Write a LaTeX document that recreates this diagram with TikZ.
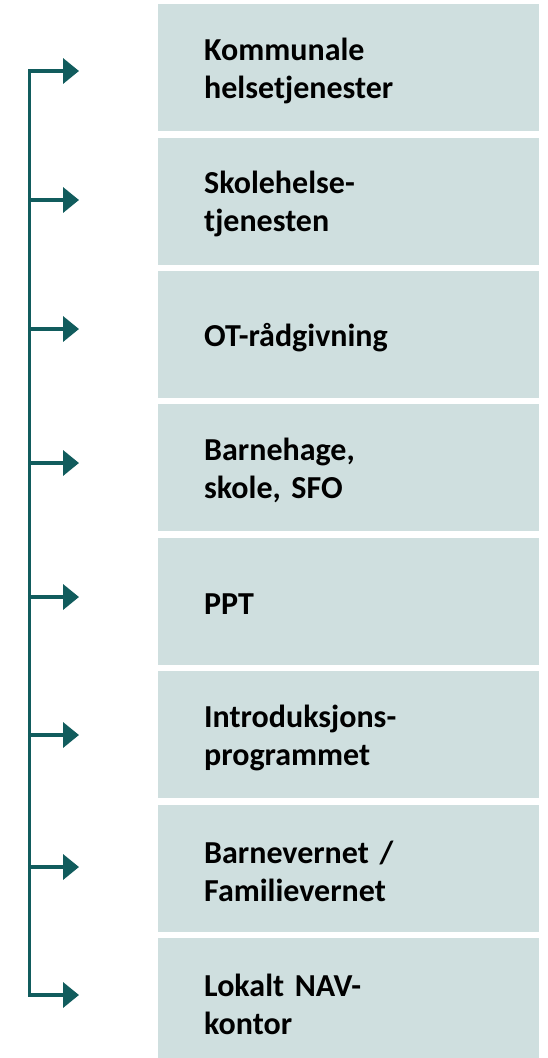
\documentclass[tikz,border=0pt]{standalone}
\usepackage{fontspec}
\setmainfont{Carlito}
\usetikzlibrary{arrows.meta}
\definecolor{boxfill}{HTML}{CFDFDF}
\definecolor{teal}{HTML}{115C5D}
\newcommand{\myboxfont}{\fontsize{32}{38}\selectfont\bfseries\frenchspacing\spaceskip=0.2em\relax}
\begin{document}
\begin{tikzpicture}[x=1pt,y=-1pt,
  sbox/.style={rectangle, fill=boxfill, anchor=north west, inner sep=0pt,
    minimum width=381pt, minimum height=127pt},
  stext/.style={anchor=west, inner sep=0pt, text width=289pt, align=left,
    font=\myboxfont, xshift=46pt, yshift=-3pt},
  conn/.style={draw=teal, line width=3.6pt, line join=miter},
  tip/.style={-{Triangle[length=16pt,width=25pt]}, teal}]
\useasboundingbox (0,0) rectangle (547,1058);
\begin{scope}
\clip (0,0) rectangle (547,1058);
\node[sbox] (b1) at (158,4.0)   {};
\node[sbox] (b2) at (158,137.4) {};
\node[sbox] (b3) at (158,270.8) {};
\node[sbox] (b4) at (158,404.2) {};
\node[sbox] (b5) at (158,537.6) {};
\node[sbox] (b6) at (158,671.0) {};
\node[sbox] (b7) at (158,804.4) {};
\node[sbox] (b8) at (158,937.8) {};
\end{scope}
\node[stext] (l1) at (b1.west) {Kommunale\\helsetjenester};
\node[stext] (l2) at (b2.west) {Skolehelse-\\tjenesten};
\node[stext] (l3) at (b3.west) {OT-rådgivning};
\node[stext] (l4) at (b4.west) {Barnehage,\\skole, SFO};
\node[stext] (l5) at (b5.west) {PPT};
\node[stext] (l6) at (b6.west) {Introduksjons-\\programmet};
\node[stext] (l7) at (b7.west) {Barnevernet /\\Familievernet};
\node[stext] (l8) at (b8.west) {Lokalt NAV-\\kontor};
% trunk points and arrow ends
\coordinate (t1) at (29.5,71);  \coordinate (a1) at (79,71);
\coordinate (t2) at (29.5,200); \coordinate (a2) at (79,200);
\coordinate (t3) at (29.5,329); \coordinate (a3) at (79,329);
\coordinate (t4) at (29.5,463); \coordinate (a4) at (79,463);
\coordinate (t5) at (29.5,597); \coordinate (a5) at (79,597);
\coordinate (t6) at (29.5,735); \coordinate (a6) at (79,735);
\coordinate (t7) at (29.5,867); \coordinate (a7) at (79,867);
\coordinate (t8) at (29.5,995); \coordinate (a8) at (79,995);
\draw[conn,tip] (t8) -- (t1) -- (a1);
\draw[conn,tip] (t1) -- (t8) -- (a8);
\foreach \i in {2,...,7} \draw[conn,tip] (t\i) -- (a\i);
\end{tikzpicture}
\end{document}
